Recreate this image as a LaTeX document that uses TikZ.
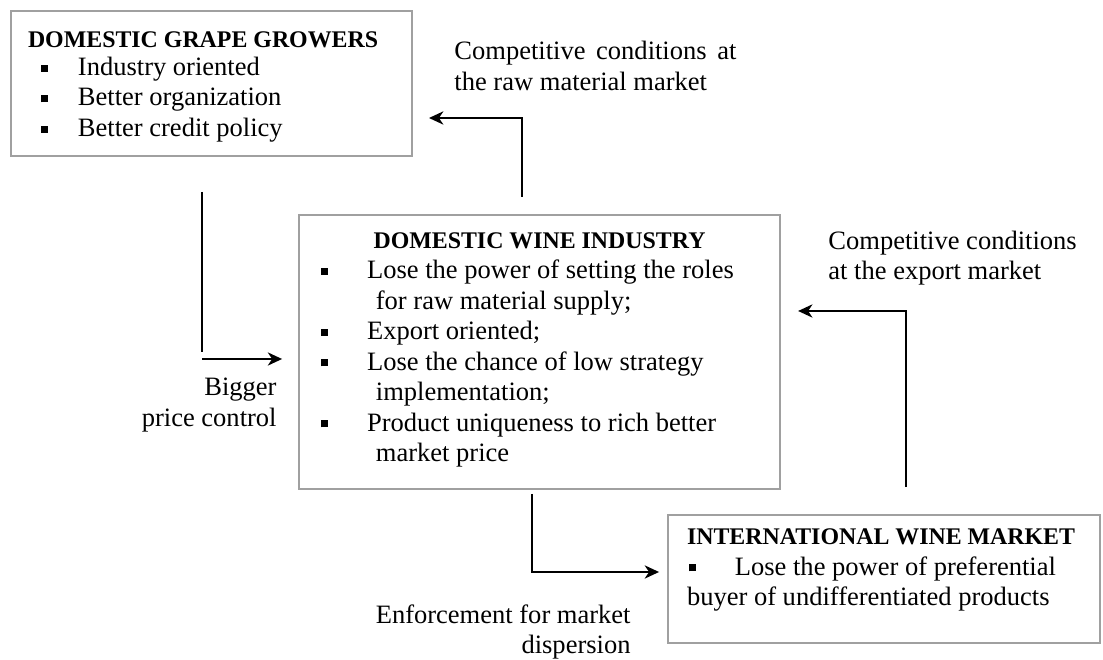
\documentclass[tikz,border=0pt]{standalone}
\usepackage{fontspec}
\setmainfont{Liberation Serif}
\usetikzlibrary{arrows.meta,positioning,calc}
\definecolor{boxgray}{RGB}{160,160,160}
\newcommand{\sqb}{\rule[0.3ex]{3.2pt}{3.2pt}}
\newcommand{\headfont}{\fontsize{10.8}{13.8}\selectfont\bfseries}

\begin{document}
\begin{tikzpicture}[
  x=0.4525pt, y=-0.4525pt,
  every node/.style={font=\fontsize{12}{13.8}\selectfont},
  box/.style={draw=boxgray, line width=0.9pt, anchor=north west, inner ysep=0pt},
  lbl/.style={inner sep=0pt, align=left},
  wire/.style={line width=0.8pt},
  arr/.style={wire, -{Stealth[length=6.5pt, width=6pt, inset=2pt]}}
]
  \useasboundingbox (0,0) rectangle (1103,660);

  % the three parties
  \node[box, minimum width=181.5pt, minimum height=65.6pt, inner xsep=7.7pt] (growers) at (10,10) {%
    \begin{tabular}{@{}p{22.6pt}@{}p{143.5pt}@{}}
      \multicolumn{2}{@{}l@{}}{\headfont DOMESTIC GRAPE GROWERS}\\[-1pt]
      \hspace*{5.9pt}\sqb & Industry oriented\\
      \hspace*{5.9pt}\sqb & Better organization\\
      \hspace*{5.9pt}\sqb & Better credit policy\\[-2pt]
    \end{tabular}};
  \node[box, minimum width=217.7pt, minimum height=124pt, inner xsep=10pt] (industry) at (298,214) {%
    \begin{tabular}{@{}p{20.8pt}@{}p{176.9pt}@{}}
      \multicolumn{2}{@{}c@{}}{\headfont DOMESTIC WINE INDUSTRY}\\
      \sqb & Lose the power of setting the roles\\
           & \hspace*{4pt}for raw material supply;\\
      \sqb & Export oriented;\\
      \sqb & Lose the chance of low strategy\\
           & \hspace*{4pt}implementation;\\
      \sqb & Product uniqueness to rich better\\
           & \hspace*{4pt}market price\\[3pt]
    \end{tabular}};
  \node[box, minimum width=195.5pt, minimum height=57.9pt, inner xsep=8.6pt] (intl) at (667,514) {%
    \begin{tabular}{@{}p{21.7pt}@{}p{156.6pt}@{}}
      \multicolumn{2}{@{}l@{}}{\headfont INTERNATIONAL WINE MARKET}\\
      \hspace*{1pt}\sqb & Lose the power of preferential\\
      \multicolumn{2}{@{}l@{}}{buyer of undifferentiated products}\\[9pt]
    \end{tabular}};

  % labels of the links
  \node[lbl, anchor=west] (rawlbl) at (454,66) {\makebox[127.6pt][s]{Competitive conditions at}\\the raw material market};
  \node[lbl, anchor=west] (exportlbl) at (828,258) {Competitive conditions\\at the export market};
  \node[lbl, anchor=east, align=right] (pricelbl) at (277,405) {Bigger\\price control};
  \node[lbl, anchor=east, align=right] (disperlbl) at (631,632) {Enforcement for market\\dispersion};

  % bends of the links
  \coordinate (a1) at (522,118);
  \coordinate (a2) at (202,359);
  \coordinate (a3) at (906,311);
  \coordinate (a4) at (532,572);

  \draw[arr, shorten <=7.7pt, shorten >=7.2pt] (industry.north -| a1) |- (growers.east |- a1);
  \draw[wire, shorten <=15.8pt, shorten >=3.2pt] (growers.south -| a2) -- (a2);
  \draw[arr, shorten >=7.2pt] (a2) -- (industry.west |- a2);
  \draw[arr, shorten <=12.2pt, shorten >=7.7pt] (intl.north -| a3) |- (industry.east |- a3);
  \draw[arr, shorten <=1.8pt, shorten >=3.6pt] (industry.south -| a4) |- (intl.west |- a4);
\end{tikzpicture}
\end{document}
